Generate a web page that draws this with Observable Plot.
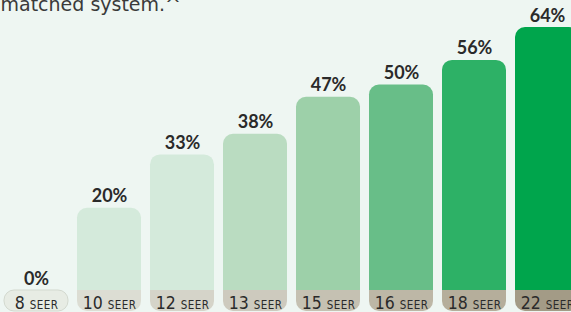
<!DOCTYPE html>
<html><head><meta charset="utf-8">
<script src="https://cdn.jsdelivr.net/npm/d3@7"></script>
<script src="https://cdn.jsdelivr.net/npm/@observablehq/plot@0.6"></script>
<style>
html,body{margin:0;padding:0;background:#eef6f2;overflow:hidden}
#chart{position:relative;width:571px;height:312px;overflow:hidden}
</style></head><body><div id="chart"></div>
<script>
// ---- data ----
const categories = ["8", "10", "12", "13", "15", "16", "18", "22"];
const values = [0, 20, 33, 38, 47, 50, 56, 64];
const valueLabels = ["0%", "20%", "33%", "38%", "47%", "50%", "56%", "64%"];
const unitLabel = "SEER";
const titleText = "matched system.^";

// ---- styles ----
const barColors = ["#d4eadb", "#d4eadb", "#d4eadb", "#badcc1", "#9dd0a9", "#68be88", "#2db166", "#00a54c"];
const pillColors = ["#e7ece4", "#dcddd3", "#d5d4c9", "#cdcabe", "#c5c1b2", "#bdb7a6", "#b5ae9b", "#a39b86"];
const labelFont = "'Liberation Sans Narrow', 'DejaVu Sans Condensed', 'Roboto', sans-serif";

const data = categories.map((c, i) => ({
  seer: c, value: values[i], label: valueLabels[i],
  bar: barColors[i], pill: pillColors[i]
}));
const raised = data.filter(d => d.value > 0);
const flat = data.filter(d => d.value === 0);

const chart = Plot.plot({
  width: 571, height: 312,
  marginTop: 0, marginRight: 0, marginBottom: 0, marginLeft: 0,
  style: {background: "transparent", fontFamily: "Lato, 'Open Sans', sans-serif", overflow: "hidden"},
  x: {type: "band", domain: categories, range: [3, 580], paddingInner: 0.127, paddingOuter: 0, axis: null},
  y: {domain: [0, 64], range: [290, 27], axis: null},
  color: {type: "identity"},
  marks: [
    Plot.barY(raised, {x: "seer", y1: 0, y2: "value", fill: "bar", rx: 10, insetBottom: -15}),
    Plot.barY(raised, {x: "seer", y1: 0, y2: 0, fill: "pill", rx: 10, insetBottom: -21}),
    Plot.barY(raised, {x: "seer", y1: 0, y2: 0, fill: "pill", insetBottom: -11}),
    Plot.barY(flat, {x: "seer", y1: 0, y2: 0, fill: "pill", stroke: "#d3d9cf", strokeWidth: 1, rx: 10, insetBottom: -21}),
    Plot.text(data, {x: "seer", y: "value", text: "label", lineAnchor: "bottom", dy: -6,
      fontSize: 18, fontWeight: 700, fill: "#2a2a2a"}),
    Plot.text(data, {x: "seer", y: 0, text: d => d.seer + " " + unitLabel, lineAnchor: "bottom", dy: 18.5,
      fontSize: 17.5, fontFamily: labelFont, fill: "#2a2a2a"}),
    Plot.text([titleText], {frameAnchor: "top-left", text: d => d, textAnchor: "start",
      lineAnchor: "bottom", dx: 0, dy: 10.5, fontSize: 19, fontFamily: "'DejaVu Sans', sans-serif", fill: "#3a3a3a"})
  ]
});
document.getElementById("chart").appendChild(chart);

// render the unit as smaller capitals
d3.select(chart).selectAll("text").each(function () {
  const t = this.textContent;
  const suffix = " " + unitLabel;
  if (t.endsWith(suffix)) {
    const num = t.slice(0, -suffix.length);
    const el = d3.select(this);
    el.text(null);
    el.append("tspan").attr("font-size", 17.5).text(num + " ");
    el.append("tspan").attr("font-size", 11.5).attr("letter-spacing", 0.4).text(unitLabel);
  }
});
</script>
</body></html>
